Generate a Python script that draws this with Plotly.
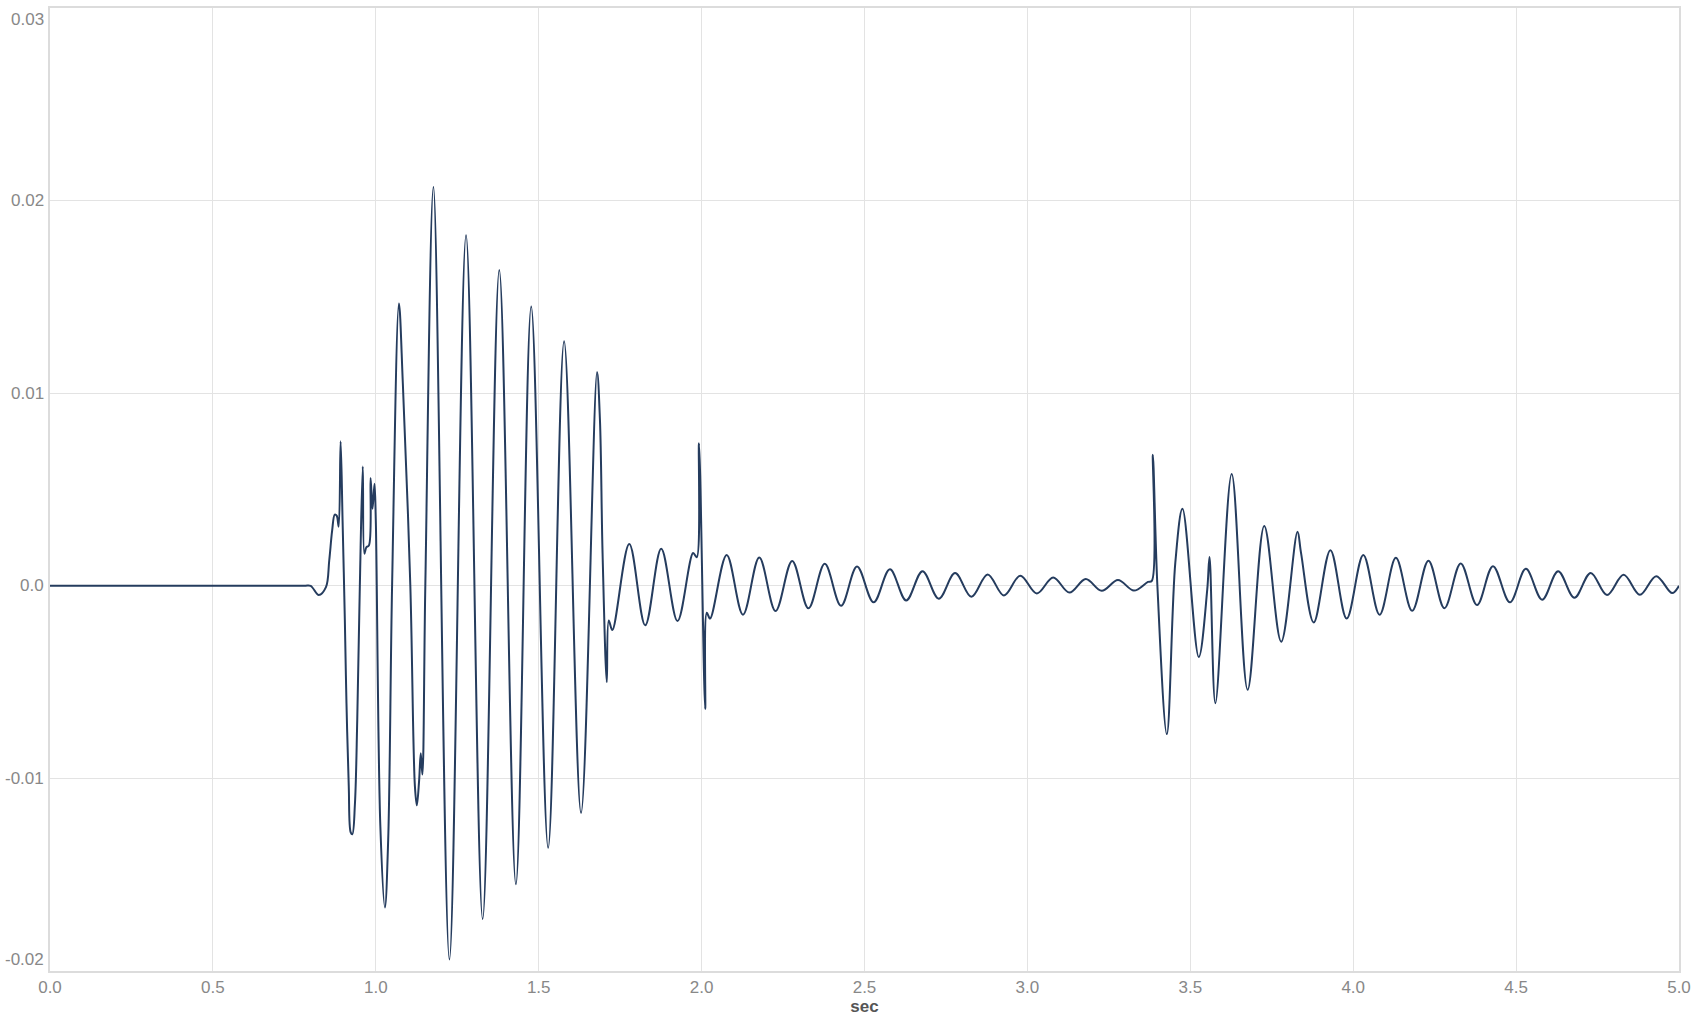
import plotly.graph_objects as go

# Time (s) and amplitude values
time_sec = [
    0.000, 0.400, 0.780, 0.800, 0.825, 0.847, 0.857, 0.866, 0.874, 0.880, 0.886, 0.892,
    0.898, 0.905, 0.910, 0.917, 0.923, 0.928, 0.936, 0.943, 0.951, 0.960,
    0.965, 0.971, 0.979, 0.984, 0.990, 0.996, 1.000, 1.014, 1.028, 1.038,
    1.050, 1.071, 1.083, 1.106, 1.120, 1.126, 1.133, 1.138, 1.143, 1.152,
    1.177, 1.226, 1.277, 1.328, 1.379, 1.430, 1.477, 1.529, 1.578, 1.630,
    1.679, 1.688, 1.696, 1.709, 1.715, 1.726, 1.778, 1.827, 1.876, 1.926,
    1.974, 1.985, 1.992, 2.011, 2.016, 2.026, 2.077, 2.127, 2.177, 2.227,
    2.278, 2.328, 2.378, 2.428, 2.477, 2.528, 2.578, 2.628, 2.678, 2.728,
    2.778, 2.828, 2.878, 2.928, 2.978, 3.029, 3.079, 3.129, 3.179, 3.228,
    3.278, 3.327, 3.370, 3.382, 3.385, 3.399, 3.428, 3.454, 3.476, 3.526,
    3.552, 3.559, 3.577, 3.627, 3.676, 3.727, 3.779, 3.829, 3.840, 3.879,
    3.930, 3.980, 4.031, 4.081, 4.131, 4.181, 4.231, 4.280, 4.330, 4.380,
    4.429, 4.481, 4.530, 4.580, 4.629, 4.679, 4.729, 4.779, 4.830, 4.880,
    4.930, 4.979, 5.000,
]
amplitude = [
    0.0, 0.0, 0.0, 0.0, -0.00048, -0.00007, 0.0013, 0.00286, 0.0037, 0.00364, 0.00307, 0.0075,
    0.0034, -0.0018, -0.0061, -0.0104, -0.0128, -0.0129, -0.0113, -0.0070, 0.0, 0.0062,
    0.00166, 0.0020, 0.0021, 0.0056, 0.0040, 0.0053, 0.0034, -0.0125, -0.0167, -0.0132,
    0.0, 0.01466, 0.0105, 0.0, -0.0104, -0.0114, -0.0101, -0.0087, -0.0098, 0.0,
    0.0207, -0.0194, 0.0182, -0.0173, 0.0164, -0.0155, 0.0145, -0.0136, 0.0127, -0.0118,
    0.0111, 0.0086, 0.0017, -0.0050, -0.0018, -0.0023, 0.00217, -0.00205, 0.00193, -0.00183,
    0.0017, 0.00148, 0.0074, -0.0064, -0.0014, -0.0017, 0.0016, -0.0015, 0.00147, -0.00131,
    0.00129, -0.00117, 0.00114, -0.00104, 0.0010, -0.00086, 0.00086, -0.00076, 0.00076, -0.00067,
    0.00066, -0.00057, 0.00059, -0.0005, 0.00052, -0.0004, 0.00043, -0.00035, 0.00035, -0.00026,
    0.0003, -0.00025, 0.0002, 0.00026, 0.0068, 0.0, -0.0077, 0.0012, 0.0040, -0.0037,
    -0.0002, 0.0015, -0.0061, 0.0058, -0.0054, 0.0031, -0.0029, 0.0028, 0.0017, -0.0019,
    0.00185, -0.0017, 0.0016, -0.0015, 0.00145, -0.0013, 0.0013, -0.00116, 0.00116, -0.0010,
    0.00102, -0.00086, 0.00088, -0.00072, 0.00076, -0.00062, 0.00067, -0.00048, 0.00057, -0.00047,
    0.0005, -0.00038, 0.0,
]

x_ticks = [0.0, 0.5, 1.0, 1.5, 2.0, 2.5, 3.0, 3.5, 4.0, 4.5, 5.0]
x_tick_labels = ["0.0", "0.5", "1.0", "1.5", "2.0", "2.5", "3.0", "3.5", "4.0", "4.5", "5.0"]
y_ticks = [-0.02, -0.01, 0.0, 0.01, 0.02, 0.03]
y_tick_labels = ["-0.02", "-0.01", "0.0", "0.01", "0.02", "0.03"]

FONT = "Helvetica, Arial, 'Liberation Sans', sans-serif"
TICK_COLOR = "#888888"
GRID = "#e3e3e3"

fig = go.Figure()
fig.add_trace(go.Scatter(
    x=time_sec, y=amplitude, mode="lines",
    line=dict(color="#253c5e", width=2, shape="spline", smoothing=1.0),
    hoverinfo="x+y", showlegend=False,
))

# y tick labels as annotations (top/bottom labels are kept inside the frame)
for val, txt in zip(y_ticks, y_tick_labels):
    if val == max(y_ticks):
        ya = "top"
    elif val == min(y_ticks):
        ya = "bottom"
    else:
        ya = "middle"
    fig.add_annotation(
        x=0, xref="paper", xanchor="right", xshift=-4,
        y=val, yref="y", yanchor=ya,
        text=txt, showarrow=False,
        font=dict(family=FONT, size=17, color=TICK_COLOR),
    )

fig.update_layout(
    width=1702, height=1020,
    margin=dict(l=50, r=23, t=6, b=49),
    paper_bgcolor="white", plot_bgcolor="white",
    font=dict(family=FONT, size=17, color=TICK_COLOR),
    xaxis=dict(
        range=[0, 5], tickvals=x_ticks, ticktext=x_tick_labels,
        showgrid=True, gridcolor=GRID, gridwidth=1,
        zeroline=False, showline=True, linecolor="#dcdcdc", linewidth=2, mirror=True,
        ticks="", tickfont=dict(family=FONT, size=17, color=TICK_COLOR),
        title=dict(text="<b>sec</b>", font=dict(family=FONT, size=17, color="#555555"), standoff=4),
    ),
    yaxis=dict(
        range=[-0.02, 0.03], tickvals=y_ticks, showticklabels=False,
        showgrid=True, gridcolor=GRID, gridwidth=1,
        zeroline=False, showline=True, linecolor="#dcdcdc", linewidth=2, mirror=True,
        ticks="",
    ),
)

fig.write_html("out.html", config={"displayModeBar": False},
               post_script="document.body.style.margin='0px';")
